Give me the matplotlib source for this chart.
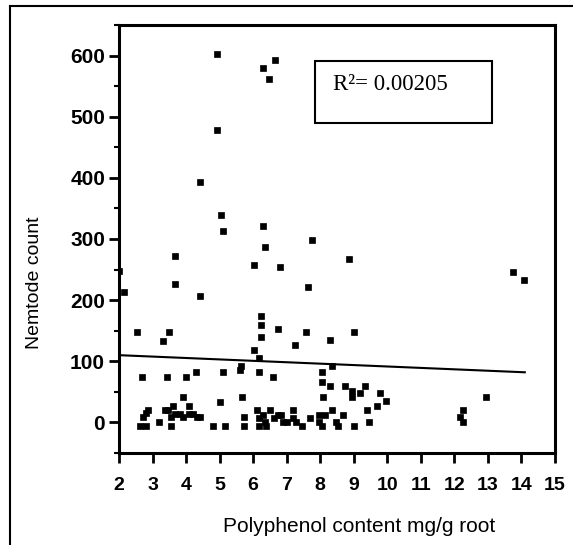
import matplotlib
matplotlib.use("Agg")
import matplotlib.pyplot as plt
from matplotlib.patches import Rectangle
from matplotlib.lines import Line2D
from matplotlib.ticker import MultipleLocator

polyphenol = [2.0, 2.15, 2.55, 2.68, 2.63, 2.80, 2.72, 2.80, 2.87, 3.19, 3.30, 3.37, 3.46, 3.49,
              3.43, 3.55, 3.55, 3.61, 3.67, 3.67, 3.67, 3.82, 3.91, 3.91, 4.0, 4.10, 4.10, 4.21,
              4.30, 4.33, 4.42, 4.42, 4.42, 4.79, 4.93, 4.93, 5.0, 5.04, 5.10, 5.10, 5.16, 5.6,
              5.64, 5.67, 5.73, 5.73, 6.04, 6.04, 6.12, 6.18, 6.18, 6.18, 6.18, 6.23, 6.23, 6.23,
              6.30, 6.30, 6.30, 6.36, 6.36, 6.39, 6.48, 6.5, 6.6, 6.63, 6.66, 6.75, 6.75, 6.81,
              6.84, 6.9, 7.0, 7.19, 7.19, 7.26, 7.28, 7.46, 7.58, 7.64, 7.7, 7.76, 7.97, 7.97,
              8.06, 8.06, 8.06, 8.09, 8.14, 8.30, 8.30, 8.36, 8.36, 8.48, 8.54, 8.69, 8.75, 8.87,
              8.96, 8.96, 9.0, 9.01, 9.19, 9.34, 9.40, 9.46, 9.70, 9.79, 9.97, 12.18, 12.27, 12.27,
              12.95, 13.76, 14.09]
nematodes = [248, 213, 148, 75, -6, -6, 9, 15, 20, 1, 133, 20, 20, 148,
             75, -6, 9, 27, 14, 226, 273, 14, 9, 41, 75, 27, 14, 14,
             82, 9, 9, 206, 393, -6, 603, 479, 33, 339, 313, 82, -6, 86,
             92, 41, -6, 9, 257, 118, 20, 105, 82, -6, 7, 140, 159, 174,
             580, 321, 12, 287, 1, -6, 562, 20, 75, 7, 593, 152, 12, 254,
             12, 1, 1, 20, 7, 127, 1, -6, 148, 222, 7, 298, 12, 1,
             -6, 82, 66, 41, 12, 134, 60, 92, 20, 1, -6, 12, 60, 267,
             52, 41, 148, -6, 48, 60, 20, 1, 27, 48, 35, 9, 20, 1,
             41, 246, 233]

fit_x = [2.0, 14.1]
fit_y = [110, 82]
r2_text = "R\u00b2= 0.00205"
xticks = list(range(2, 16))
yticks = [0, 100, 200, 300, 400, 500, 600]

W, H = 573, 545
fig = plt.figure(figsize=(W / 100, H / 100), dpi=100)
ax = fig.add_axes([119 / W, 1 - 453 / H, (555 - 119) / W, (453 - 25) / H])

ax.plot(polyphenol, nematodes, linestyle="none", marker="s", markersize=4.0,
        color="black", markeredgewidth=0.5)
ax.plot(fit_x, fit_y, color="black", linewidth=1.5)

ax.set_xlim(2, 15)
ax.set_ylim(-50, 650)
ax.set_xticks(xticks)
ax.set_yticks(yticks)
ax.yaxis.set_minor_locator(MultipleLocator(50))

for s in ax.spines.values():
    s.set_linewidth(2.2)

ax.tick_params(axis="x", which="major", direction="out", length=7, width=2, pad=10)
ax.tick_params(axis="y", which="major", direction="out", length=7, width=2, pad=3)
ax.tick_params(axis="y", which="minor", direction="out", length=3.5, width=1.5)

for lab in ax.get_xticklabels():
    lab.set_fontfamily("Liberation Sans")
    lab.set_fontweight("bold")
    lab.set_fontsize(14)
for lab in ax.get_yticklabels():
    lab.set_fontfamily("Liberation Sans")
    lab.set_fontweight("bold")
    lab.set_fontsize(15)

ax.set_xlabel("Polyphenol content mg/g root", family="Liberation Sans", size=15)
ax.set_ylabel("Nemtode count", family="Liberation Sans", size=14)
ax.xaxis.set_label_coords((359 - 119) / 436, (453 - 517) / 428)
ax.yaxis.set_label_coords((43 - 119) / 436, (453 - 283) / 428)

box = Rectangle(((315 - 119) / 436, (453 - 123) / 428), (492 - 315) / 436, 62 / 428,
                transform=ax.transAxes, fill=False, edgecolor="black", linewidth=1.5)
ax.add_patch(box)
ax.text((333 - 119) / 436, (453 - 90) / 428, r2_text, transform=ax.transAxes,
        family="Liberation Serif", size=16.5, va="baseline", ha="left")

fig.add_artist(Line2D([10 / W, 10 / W], [-0.05, 1 - 6 / H], color="black", linewidth=1.5))
fig.add_artist(Line2D([10 / W, 1.05], [1 - 6 / H, 1 - 6 / H], color="black", linewidth=1.5))

fig.savefig("out.png", dpi=100)
